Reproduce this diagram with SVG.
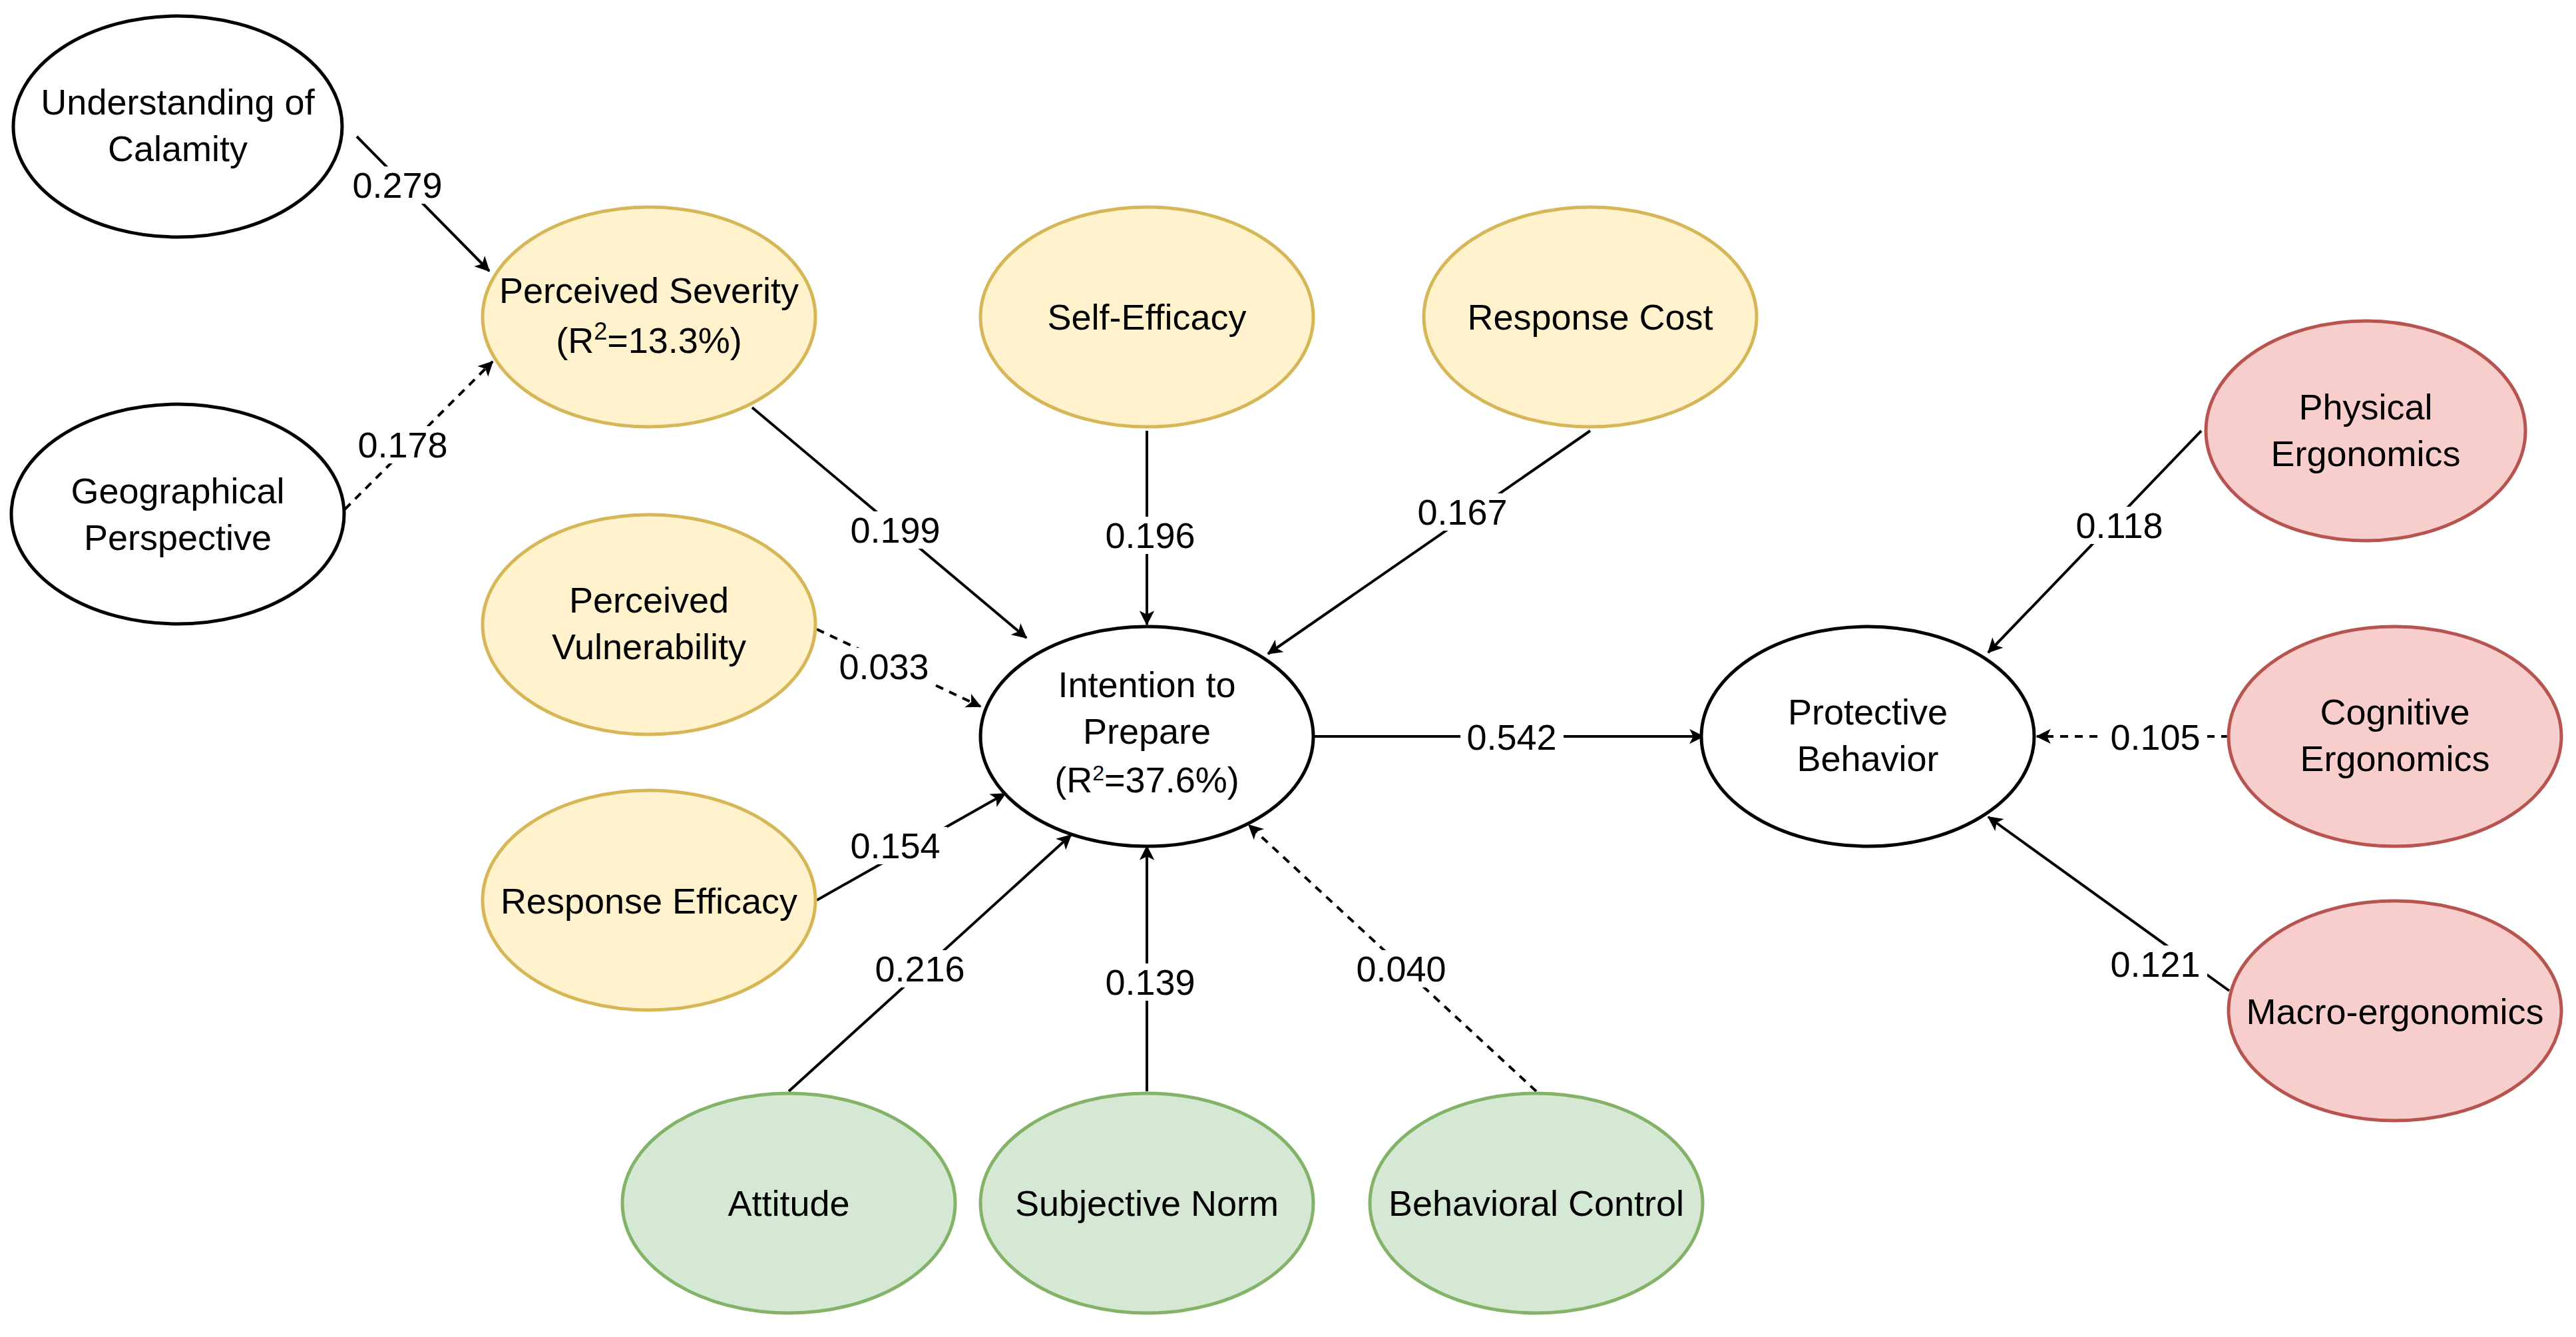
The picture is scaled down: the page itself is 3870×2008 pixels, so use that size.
<svg xmlns="http://www.w3.org/2000/svg" width="3870" height="2008" viewBox="0 0 3870 2008">
<style>
.n{stroke-width:5}
.w{fill:#fff;stroke:#000}
.y{fill:#FFF2CC;stroke:#D6B656}
.g{fill:#D5E8D4;stroke:#82B366}
.r{fill:#F8CECC;stroke:#B85450}
text{font-family:"Liberation Sans",Arial,sans-serif;font-size:54px;fill:#000;text-anchor:middle}
.e{stroke:#000;stroke-width:4;fill:none;marker-end:url(#a)}
.d{stroke-dasharray:12 10}
.lb{fill:#fff}
</style>
<defs>
<marker id="a" viewBox="0 0 10 10" refX="9" refY="5" markerWidth="7" markerHeight="7" orient="auto" markerUnits="userSpaceOnUse" style="overflow:visible">
<path d="M0,0 L10,5 L0,10 L2.5,5 Z" fill="#000" transform="scale(3.2) translate(-6.5,-3.4)"/>
</marker>
</defs>
<rect width="3870" height="2008" fill="#fff"/>
<g id="connectors">
<path class="e" d="M536,205 L735,407"/>
<path class="e d" d="M518,765 L740,543"/>
<path class="e" d="M1130,612 L1542,958"/>
<path class="e" d="M1723,647 L1723,938"/>
<path class="e" d="M2389,647 L1905,982"/>
<path class="e d" d="M1227,945 L1473,1061"/>
<path class="e" d="M1227,1352 L1510,1192"/>
<path class="e" d="M1185,1639 L1609,1254"/>
<path class="e" d="M1723,1639 L1723,1271"/>
<path class="e d" d="M2308,1639 L1876,1239"/>
<path class="e" d="M1974,1106 L2559,1106"/>
<path class="e" d="M3307,647 L2987,980"/>
<path class="e d" d="M3349,1106 L3060,1106"/>
<path class="e" d="M3349,1488 L2987,1227"/>
<g>
<rect class="lb" x="520" y="250" width="155" height="56"/><text x="597" y="297">0.279</text>
<rect class="lb" x="528" y="640" width="155" height="56"/><text x="605" y="687">0.178</text>
<rect class="lb" x="1268" y="768" width="155" height="56"/><text x="1345" y="815">0.199</text>
<rect class="lb" x="1651" y="776" width="155" height="56"/><text x="1728" y="823">0.196</text>
<rect class="lb" x="2120" y="741" width="155" height="56"/><text x="2197" y="788">0.167</text>
<rect class="lb" x="1251" y="973" width="155" height="56"/><text x="1328" y="1020">0.033</text>
<rect class="lb" x="1268" y="1242" width="155" height="56"/><text x="1345" y="1289">0.154</text>
<rect class="lb" x="1305" y="1427" width="155" height="56"/><text x="1382" y="1474">0.216</text>
<rect class="lb" x="1651" y="1447" width="155" height="56"/><text x="1728" y="1494">0.139</text>
<rect class="lb" x="2028" y="1427" width="155" height="56"/><text x="2105" y="1474">0.040</text>
<rect class="lb" x="2194" y="1079" width="155" height="56"/><text x="2271" y="1126">0.542</text>
<rect class="lb" x="3107" y="761" width="155" height="56"/><text x="3184" y="808">0.118</text>
<rect class="lb" x="3161" y="1079" width="155" height="56"/><text x="3238" y="1126">0.105</text>
<rect class="lb" x="3161" y="1420" width="155" height="56"/><text x="3238" y="1467">0.121</text>
</g>
</g>
<g id="uoc"><ellipse class="n w" cx="267" cy="190" rx="247" ry="166"/><text x="267" y="172">Understanding of</text><text x="267" y="242">Calamity</text></g>
<g id="gp"><ellipse class="n w" cx="267" cy="772" rx="250" ry="165"/><text x="267" y="756">Geographical</text><text x="267" y="826">Perspective</text></g>
<g id="ps"><ellipse class="n y" cx="975" cy="476" rx="250" ry="165"/><text x="975" y="455">Perceived Severity</text><text x="975" y="530">(R<tspan font-size="36" dy="-20">2</tspan><tspan dy="20">=13.3%)</tspan></text></g>
<g id="se"><ellipse class="n y" cx="1723" cy="476" rx="250" ry="165"/><text x="1723" y="495">Self-Efficacy</text></g>
<g id="rc"><ellipse class="n y" cx="2389" cy="476" rx="250" ry="165"/><text x="2389" y="495">Response Cost</text></g>
<g id="pv"><ellipse class="n y" cx="975" cy="938" rx="250" ry="165"/><text x="975" y="920">Perceived</text><text x="975" y="990">Vulnerability</text></g>
<g id="re"><ellipse class="n y" cx="975" cy="1352" rx="250" ry="165"/><text x="975" y="1372">Response Efficacy</text></g>
<g id="ip"><ellipse class="n w" cx="1723" cy="1106" rx="250" ry="165"/><text x="1723" y="1047">Intention to</text><text x="1723" y="1117">Prepare</text><text x="1723" y="1190" font-size="48">(R<tspan font-size="32" dy="-18">2</tspan><tspan dy="18">=37.6%)</tspan></text></g>
<g id="pb"><ellipse class="n w" cx="2806" cy="1106" rx="250" ry="165"/><text x="2806" y="1088">Protective</text><text x="2806" y="1158">Behavior</text></g>
<g id="phe"><ellipse class="n r" cx="3554" cy="647" rx="240" ry="165"/><text x="3554" y="630">Physical</text><text x="3554" y="700">Ergonomics</text></g>
<g id="ce"><ellipse class="n r" cx="3598" cy="1106" rx="250" ry="165"/><text x="3598" y="1088">Cognitive</text><text x="3598" y="1158">Ergonomics</text></g>
<g id="me"><ellipse class="n r" cx="3598" cy="1518" rx="250" ry="165"/><text x="3598" y="1538">Macro-ergonomics</text></g>
<g id="att"><ellipse class="n g" cx="1185" cy="1807" rx="250" ry="165"/><text x="1185" y="1826">Attitude</text></g>
<g id="sn"><ellipse class="n g" cx="1723" cy="1807" rx="250" ry="165"/><text x="1723" y="1826">Subjective Norm</text></g>
<g id="bc"><ellipse class="n g" cx="2308" cy="1807" rx="250" ry="165"/><text x="2308" y="1826">Behavioral Control</text></g>
</svg>
